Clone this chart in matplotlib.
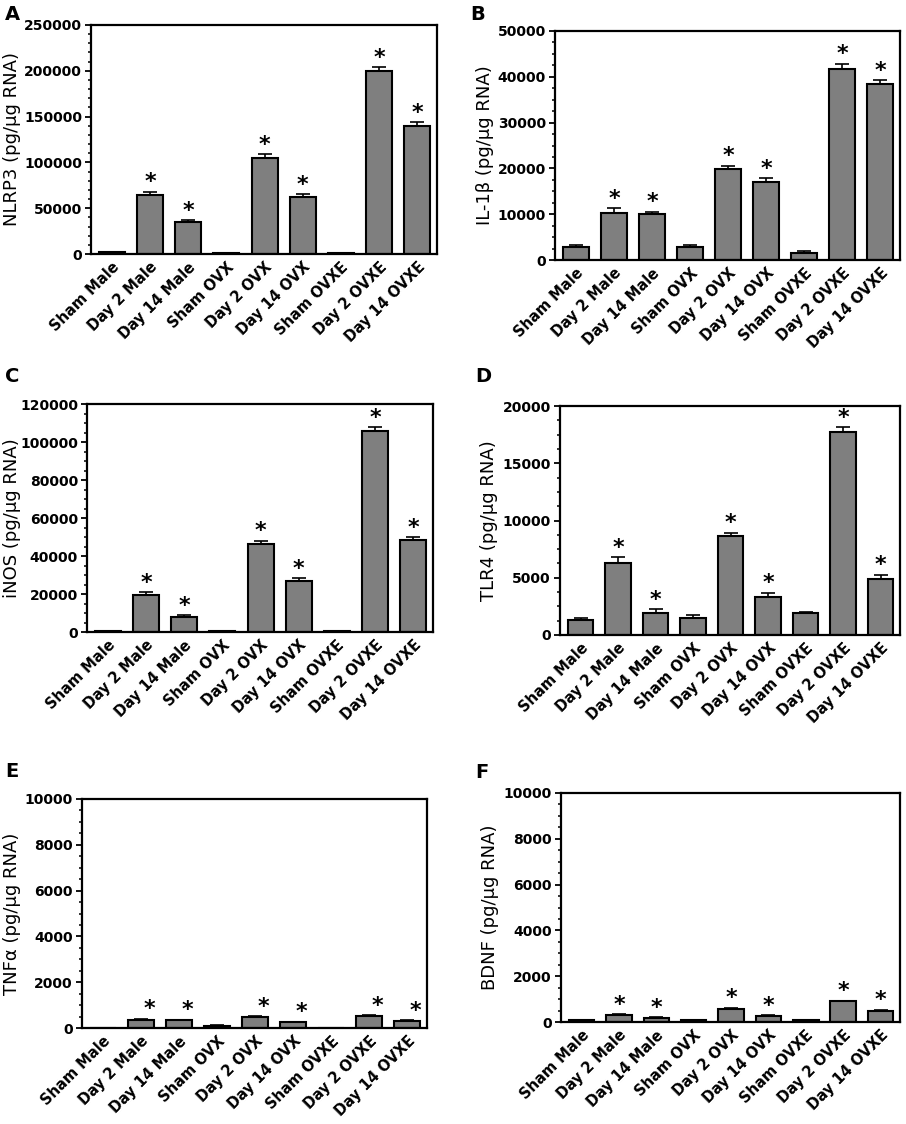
import matplotlib
matplotlib.use('Agg')
import matplotlib.pyplot as plt
import numpy as np
from matplotlib.ticker import AutoMinorLocator

groups = ['Sham Male', 'Day 2 Male', 'Day 14 Male', 'Sham OVX', 'Day 2 OVX',
          'Day 14 OVX', 'Sham OVXE', 'Day 2 OVXE', 'Day 14 OVXE']

nlrp3 = [2000, 64500, 34500, 1000, 105000, 62500, 1000, 200000, 140000]
nlrp3_err = [600, 3500, 2500, 300, 3700, 2500, 300, 3800, 3600]

il1b = [2800, 10300, 10100, 2800, 19800, 17100, 1600, 41800, 38400]
il1b_err = [450, 1000, 400, 400, 800, 700, 400, 1100, 800]

inos = [400, 19700, 7900, 400, 46300, 26900, 400, 105600, 48400]
inos_err = [150, 1300, 900, 150, 1700, 1400, 150, 2300, 1400]

tlr4 = [1300, 6300, 1900, 1450, 8650, 3350, 1900, 17700, 4900]
tlr4_err = [200, 480, 340, 300, 300, 350, 150, 440, 370]

tnfa = [0, 340, 340, 90, 470, 250, 0, 510, 320]
tnfa_err = [0, 70, 30, 20, 50, 30, 0, 50, 30]

bdnf = [90, 320, 160, 90, 570, 260, 90, 910, 470]
bdnf_err = [10, 30, 50, 10, 50, 40, 10, 10, 60]

# which bars carry an asterisk
stars = [False, True, True, False, True, True, False, True, True]

# letter, values, errors, y label, ymax, step, minor subdivisions,
# axes box (px), panel letter pos (px), y label x centre (px)
panels = [
    ('A', nlrp3, nlrp3_err, 'NLRP3 (pg/µg RNA)', 250000, 50000, 5,
     [91, 25, 437, 254], (5, 5), 12),
    ('B', il1b, il1b_err, 'IL-1β (pg/µg RNA)', 50000, 10000, 4,
     [555, 31, 900, 260], (470, 5), 485),
    ('C', inos, inos_err, 'iNOS (pg/µg RNA)', 120000, 20000, 4,
     [87, 404, 433, 632], (5, 367), 12),
    ('D', tlr4, tlr4_err, 'TLR4 (pg/µg RNA)', 20000, 5000, 4,
     [560, 406, 900, 635], (475, 367), 489),
    ('E', tnfa, tnfa_err, 'TNFα (pg/µg RNA)', 10000, 2000, 4,
     [82, 799, 427, 1028], (5, 762), 12),
    ('F', bdnf, bdnf_err, 'BDNF (pg/µg RNA)', 10000, 2000, 4,
     [561, 793, 900, 1022], (475, 763), 490),
]

W, H = 906, 1124
fig = plt.figure(figsize=(W / 100, H / 100), dpi=100)

x = np.arange(len(groups))

for letter, vals, errs, ylab, ymax, step, nminor, box, lab_xy, ylx in panels:
    x0, y0, x1, y1 = box
    ax = fig.add_axes([x0 / W, 1 - y1 / H, (x1 - x0) / W, (y1 - y0) / H])
    ax.bar(x, vals, width=0.68, color='#7f7f7f', edgecolor='black',
           linewidth=1.5, zorder=2)
    ax.errorbar(x, vals, yerr=[np.zeros(len(errs)), errs], fmt='none',
                ecolor='black', elinewidth=1.2, capsize=5, capthick=1.2,
                zorder=1)
    dx = 6 if letter == 'E' else 0
    for i in range(len(groups)):
        if stars[i]:
            ax.annotate('*', (x[i], vals[i] + errs[i]), xytext=(dx, 2.5),
                        textcoords='offset points', ha='center', va='baseline',
                        fontsize=16, fontweight='bold')
    ax.set_xlim(-0.55, 8.52)
    ax.set_ylim(0, ymax)
    ax.set_yticks(np.arange(0, ymax + 1, step))
    ax.yaxis.set_minor_locator(AutoMinorLocator(nminor))
    ax.set_xticks(x)
    ax.set_xticklabels(groups, rotation=45, ha='right', rotation_mode='anchor',
                       fontsize=10.5, fontweight='bold')
    for t in ax.get_yticklabels():
        t.set_fontweight('bold')
        t.set_fontsize(10)
    ax.tick_params(axis='x', length=0, pad=4)
    ax.tick_params(axis='y', which='major', length=4, width=1.3, direction='out',
                   pad=2.5)
    ax.tick_params(axis='y', which='minor', length=2.5, width=1.1, direction='out')
    for s in ax.spines.values():
        s.set_linewidth(1.6)
    ax.set_ylabel(ylab, fontsize=13, va='center')
    ax.yaxis.set_label_coords((ylx - x0) / (x1 - x0), 0.5)
    fig.text(lab_xy[0] / W, 1 - lab_xy[1] / H, letter, fontsize=14,
             fontweight='bold', ha='left', va='top')

fig.savefig('out.png', dpi=100)
